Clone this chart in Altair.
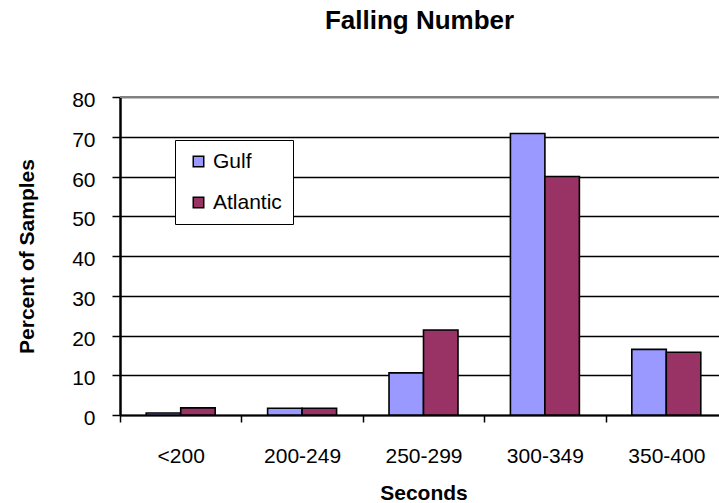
import altair as alt
import pandas as pd

categories = ["<200", "200-249", "250-299", "300-349", "350-400"]
series = ["Gulf", "Atlantic"]
gulf = [0.5, 1.7, 10.6, 70.8, 16.5]
atlantic = [1.8, 1.7, 21.4, 60.0, 15.8]
y_ticks = [0, 10, 20, 30, 40, 50, 60, 70, 80]
colors = ["#9999FF", "#993366"]

rows = []
for c, g, a in zip(categories, gulf, atlantic):
    rows.append({"cat": c, "series": "Gulf", "value": g})
    rows.append({"cat": c, "series": "Atlantic", "value": a})
df = pd.DataFrame(rows)

FONT = "Liberation Sans"
W, H = 599, 318

bars = alt.Chart(df).mark_bar(stroke="black", strokeWidth=1.6).encode(
    x=alt.X(
        "cat:N",
        sort=categories,
        scale=alt.Scale(range=[0, 607], paddingInner=0, paddingOuter=0),
        axis=alt.Axis(
            title="Seconds",
            titleFont=FONT, titleFontSize=21, titleFontWeight="bold", titleColor="black",
            titleY=84, titleBaseline="alphabetic",
            labelFont=FONT, labelFontSize=21, labelColor="black", labelPadding=23,
            labelAngle=0,
            tickBand="extent", tickColor="black", tickSize=7, tickWidth=1.5,
            domainColor="black", domainWidth=2.2, grid=False,
        ),
    ),
    xOffset=alt.XOffset("series:N", sort=series,
                        scale=alt.Scale(paddingInner=0, paddingOuter=0.76)),
    y=alt.Y(
        "value:Q",
        scale=alt.Scale(domain=[0, 80], nice=False),
        axis=alt.Axis(
            title="Percent of Samples", values=y_ticks,
            labelOverlap=False,
            titleFont=FONT, titleFontSize=21, titleFontWeight="bold", titleColor="black",
            titleX=-93, titleY=H / 2, titleAngle=270, titleBaseline="middle", titleAlign="center",
            labelFont=FONT, labelFontSize=21, labelColor="black", labelPadding=17,
            labelOffset=3.5,
            tickColor="black", tickSize=8, tickWidth=1.5,
            domainColor="black", domainWidth=2.5,
            grid=True, gridColor="black", gridWidth=1.5,
        ),
    ),
    fill=alt.Fill(
        "series:N", sort=series,
        scale=alt.Scale(domain=series, range=colors),
        legend=alt.Legend(
            title=None, orient="none", legendX=55, legendY=43,
            fillColor="white", strokeColor="black",
            padding=11, rowPadding=19,
            symbolType="square", symbolSize=110, symbolStrokeColor="black",
            symbolStrokeWidth=1.5, symbolOffset=2,
            labelFont=FONT, labelFontSize=21, labelColor="black", labelOffset=4,
        ),
    ),
)

# gray top border of the plot frame
frame_top = alt.Chart(pd.DataFrame({"edge": ["top"]})).mark_rule(
    color="#808080", strokeWidth=2
).encode(y=alt.value(0))

chart = alt.layer(bars, frame_top).properties(
    width=W, height=H,
    title=alt.TitleParams(
        "Falling Number", font=FONT, fontSize=26, fontWeight="bold", color="black",
        anchor="middle", baseline="alphabetic", offset=35,
    ),
    autosize=alt.AutoSizeParams(type="none"),
    padding={"left": 120, "top": 97, "right": 0, "bottom": 88},
).configure_view(fill="#FFFFCC", stroke=None).configure(background="white")

chart.save("out.html", embed_options={"renderer": "svg", "actions": False})
